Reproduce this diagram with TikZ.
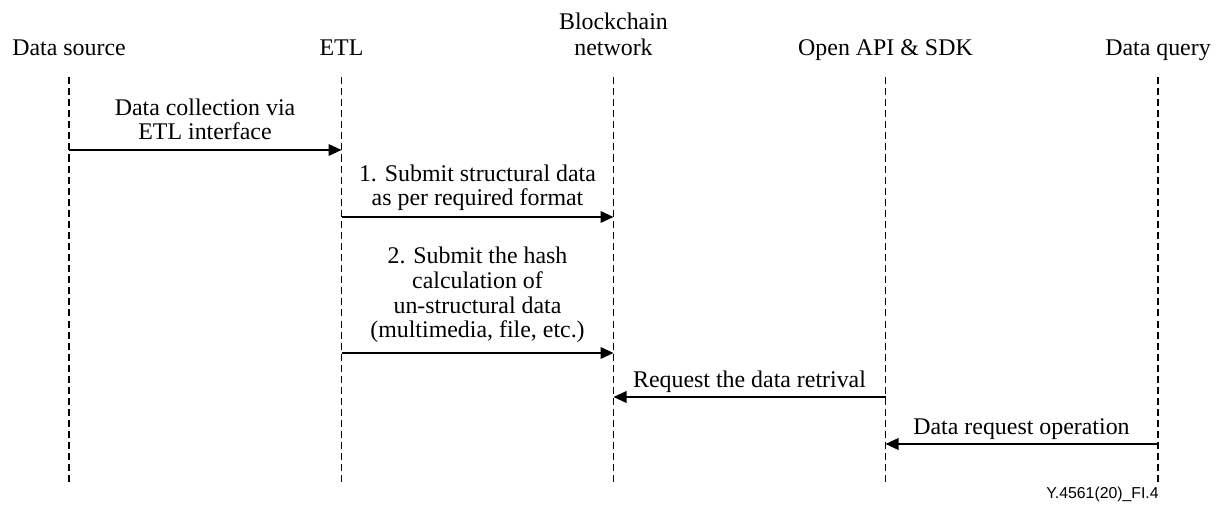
\documentclass[tikz,border=0pt]{standalone}
\usepackage{fontspec}
\setmainfont{Liberation Serif}
\newfontfamily\figsans{Liberation Sans}
\usetikzlibrary{arrows.meta}

% centred multi-line label whose baseline is that of its last line
\newcommand\stacklbl[1]{\begin{tabular}[b]{@{}c@{}}#1\end{tabular}}

\begin{document}
\begin{tikzpicture}[x=0.02cm, y=-0.02cm,
  actor/.style={anchor=base, inner sep=0pt, font=\fontsize{13.6}{14.8}\selectfont},
  msglabel/.style={anchor=base, inner sep=0pt, font=\fontsize{13.6}{14.1}\selectfont},
  lifeline/.style={line width=0.6pt, dash pattern=on 4pt off 2.3pt},
  message/.style={line width=0.95pt, -{Triangle[length=7.4pt, width=6.6pt]}},
  figref/.style={anchor=base east, inner sep=0pt, font=\figsans\fontsize{9}{11}\selectfont}]

  \useasboundingbox (0,0) rectangle (1225,509);

  % participants
  \node[actor] (src) at (69,56)     {Data source};
  \node[actor] (etl) at (341.5,56)  {ETL};
  \node[actor] (bc)  at (613.5,56)  {\stacklbl{Blockchain\\network}};
  \node[actor] (api) at (885.5,56)  {Open API \& SDK};
  \node[actor] (qry) at (1158,56)   {Data query};

  % lifelines
  \foreach \p/\x in {src/69, etl/341.5, bc/613.5, api/885.5, qry/1158} {
    \coordinate (\p-top) at (\x,77);
    \coordinate (\p-bot) at (\x,484);
    \draw[lifeline] (\p-top) -- (\p-bot);
  }

  % message end points on the lifelines
  \coordinate (m1a) at (69,150);     \coordinate (m1b) at (341.5,150);
  \coordinate (m2a) at (341.5,217);  \coordinate (m2b) at (613.5,217);
  \coordinate (m3a) at (341.5,353);  \coordinate (m3b) at (613.5,353);
  \coordinate (m4a) at (885.5,397);  \coordinate (m4b) at (613.5,397);
  \coordinate (m5a) at (1158,444);   \coordinate (m5b) at (885.5,444);

  % messages
  \draw[message] (m1a) -- (m1b);
  \draw[message] (m2a) -- (m2b);
  \draw[message] (m3a) -- (m3b);
  \draw[message] (m4a) -- (m4b);
  \draw[message] (m5a) -- (m5b);

  % message labels
  \node[msglabel] (t1) at (205,140)   {\stacklbl{Data collection via\\ETL interface}};
  \node[msglabel] (t2) at (477.5,206) {\stacklbl{1. Submit structural data\\as per required format}};
  \node[msglabel] (t3) at (477.5,338) {\stacklbl{2. Submit the hash\\calculation of\\un-structural data\\(multimedia, file, etc.)}};
  \node[msglabel] (t4) at (749.5,388) {Request the data retrival};
  \node[msglabel] (t5) at (1021.5,435) {Data request operation};

  % figure reference
  \node[figref] (ref) at (1159,499) {Y.4561(20)\_FI.4};
\end{tikzpicture}
\end{document}
